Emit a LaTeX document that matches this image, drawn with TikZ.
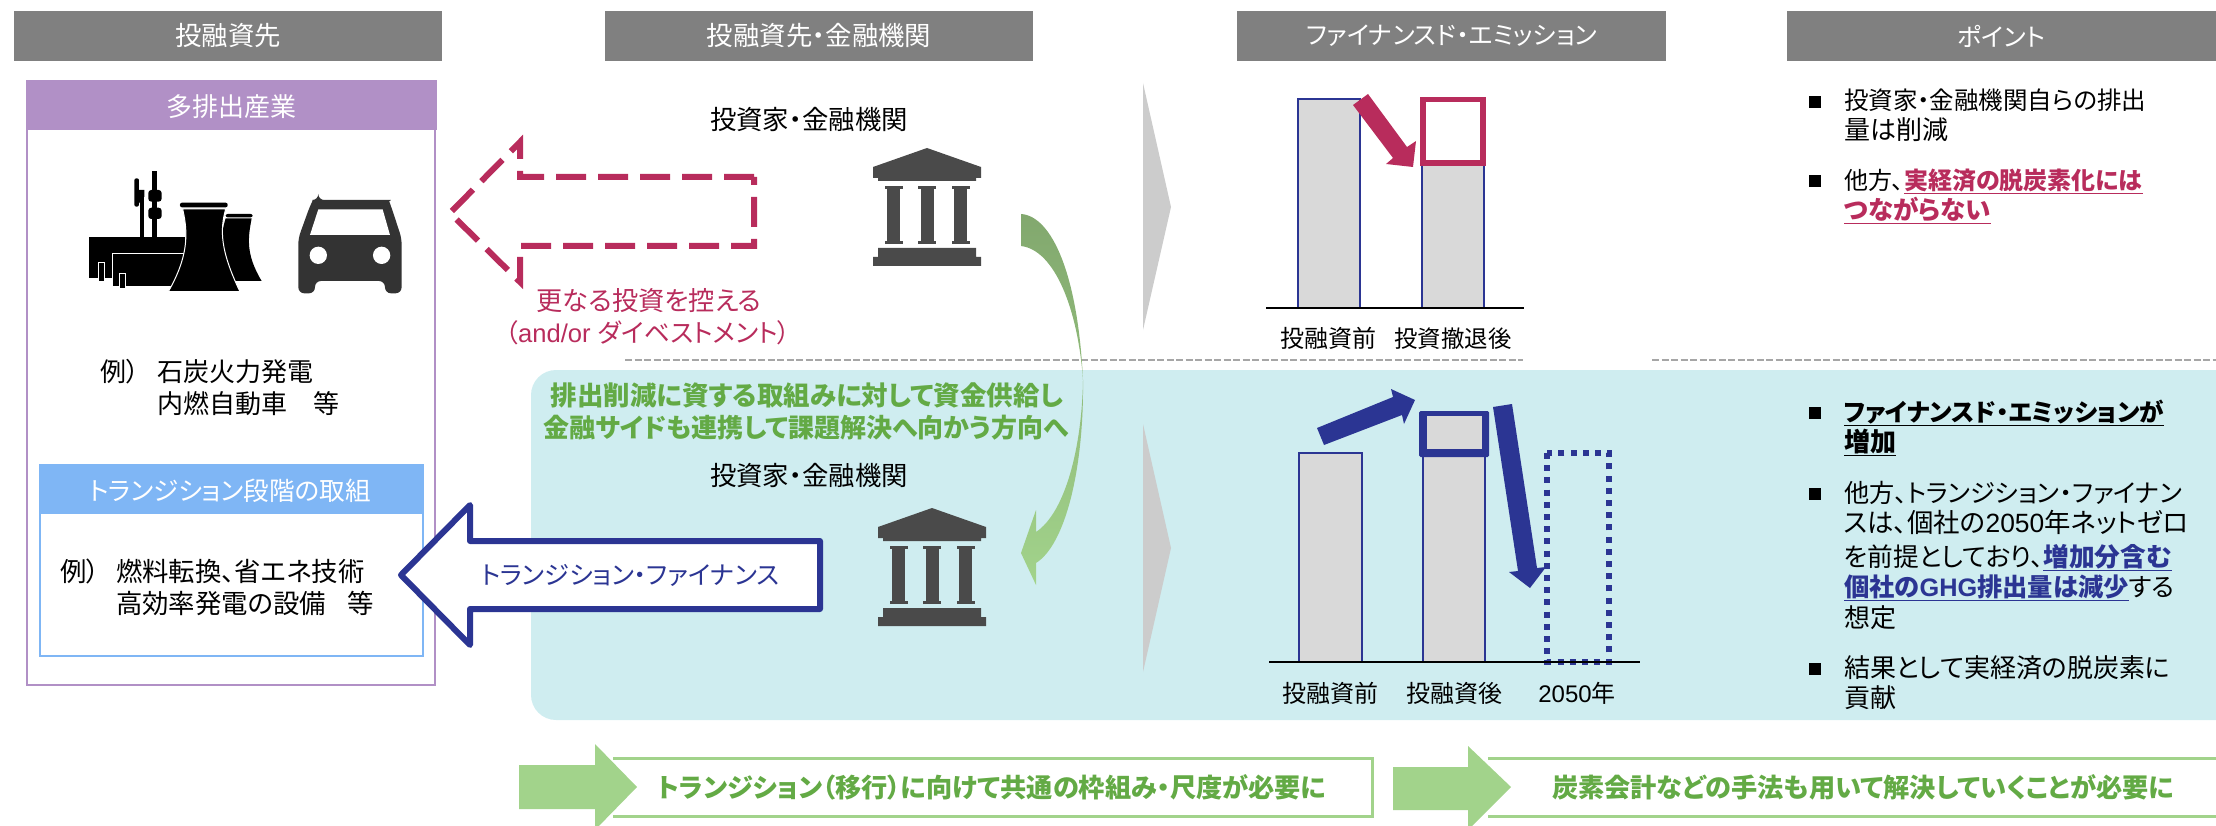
\documentclass[tikz,border=0pt]{standalone}
\usepackage{fontspec}
\setmainfont[RawFeature=+palt]{Noto Sans CJK JP}
\newfontfamily\latf{Liberation Sans}
\usetikzlibrary{calc}
\definecolor{hdgray}{HTML}{808080}
\definecolor{purp}{HTML}{B190C6}
\definecolor{skyb}{HTML}{7FB6F5}
\definecolor{teal}{HTML}{CFEDF0}
\definecolor{rose}{HTML}{B82C5C}
\definecolor{navy}{HTML}{2B3593}
\definecolor{lgreen}{HTML}{A2D38B}
\definecolor{agreen}{HTML}{82A86E}
\definecolor{mgreen}{HTML}{8FB97A}
\definecolor{dgreen}{HTML}{63AA45}
\definecolor{iconc}{HTML}{4A4A4A}
\definecolor{carc}{HTML}{333333}
\definecolor{barg}{HTML}{D9D9D9}
\tikzset{
  every node/.style={inner sep=0pt,outer sep=0pt},
  sz/.style={font=\fontsize{#1}{#1}\selectfont},
  txt/.style={sz=24.5,text height=24.5pt,text depth=6pt},
  lab/.style={txt,sz=24},
  head/.style={fill=hdgray,minimum height=50pt,text=white,sz=25,anchor=north west},
  gbold/.style={txt,text=dgreen,font=\fontsize{#1}{#1}\selectfont\bfseries},
  bul/.style={fill=black,minimum width=12pt,minimum height=12pt},
  bar/.style={fill=barg,draw=navy,line width=2.5pt},
  tri/.style={fill=black!20},
  ax/.style={draw=black,line width=2.5pt},
  sepl/.style={draw=black!35,line width=2pt,dash pattern=on 7pt off 2.5pt},
  bank/.pic={
    \fill[iconc] (0,0)--(54,19)--(54,30)--(49,30)--(49,33)--(-49,33)--(-49,30)--(-54,30)--(-54,19)--cycle;
    \foreach \c in {-33.5,0,33.5}{
      \fill[iconc] (\c-9,38) rectangle (\c+9,41);
      \fill[iconc] (\c-6.5,41) rectangle (\c+6.5,93);
      \fill[iconc] (\c-9,93) rectangle (\c+9,96);
    }
    \fill[iconc] (-49,100)--(49,100)--(49,109)--(54,109)--(54,118)--(-54,118)--(-54,109)--(-49,109)--cycle;
  }
}
\newcommand{\rl}[1]{\textcolor{rose}{\bfseries\underline{#1}}}
\newcommand{\nl}[1]{\textcolor{navy}{\bfseries\underline{#1}}}
\begin{document}
\begin{tikzpicture}[x=1pt,y=-1pt]
\useasboundingbox (0,0) rectangle (2216,826);
% teal panel
\fill[teal] (2216,370) [rounded corners=25pt] -- (531,370) -- (531,720) [sharp corners] -- (2216,720) -- cycle;
% separators
\draw[sepl] (625,360) -- (1523,360);
\draw[sepl] (1652,360) -- (2216,360);
% headers
\node[head,minimum width=428pt,sz=26.4] (h1) at (14,11) {投融資先};
\node[head,minimum width=428pt,sz=26.4] (h2) at (605,11) {投融資先・金融機関};
\node[head,minimum width=429pt] (h3) at (1237,11) {ファイナンスド・エミッション};
\node[head,minimum width=429pt] (h4) at (1787,11) {ポイント};
% purple box
\draw[purp,line width=2.5pt,fill=white] (27,100) rectangle (435,685);
\fill[purp] (26,80) rectangle (437,130);
\node[txt,text=white,sz=26] (p) at (231,107) {多排出産業};
% plant icon
\begin{scope}[shift={(60,150)},x=0.3333pt,y=-0.3333pt]
  \fill[black] (87,260) rectangle (375,383);
  \fill[black] (240,120) rectangle (253,260);
  \fill[black,rounded corners=2pt] (223,85) rectangle (237,170);
  \fill[black] (237,120)--(253,120)--(253,140)--(237,160)--cycle;
  \fill[black] (277,62) rectangle (291,260);
  \fill[black,rounded corners=3pt] (265,120) rectangle (305,155);
  \fill[black,rounded corners=3pt] (265,173) rectangle (305,207);
  \draw[white,line width=1pt,fill=black] (115,337) rectangle (135,395);
  \draw[white,line width=1pt,fill=black] (159,312) rectangle (372,410);
  \draw[white,line width=1pt,fill=black] (180,372) rectangle (198,417);
  \fill[black,rounded corners=2pt] (497,192) rectangle (578,202);
  \fill[black] (497,205) -- (575,205) .. controls (565,260) and (555,310) .. (605,393) -- (490,393) .. controls (480,300) and (480,260) .. (497,205) -- cycle;
  \draw[white,line width=1pt,fill=black] (368,177) -- (497,177) .. controls (480,240) and (480,300) .. (540,425) -- (325,425) .. controls (385,320) and (385,250) .. (368,177) -- cycle;
  \fill[black,rounded corners=2pt] (360,158) rectangle (503,172);
\end{scope}
% car icon
\begin{scope}[shift={(60,150)},x=0.3333pt,y=-0.3333pt]
  \fill[carc,rounded corners=6pt]
    (775,150) -- (975,150) .. controls (985,150) and (990,160) .. (993,168) -- (1025,265) -- (1025,430) -- (975,430) -- (975,393) -- (765,393) -- (765,430) -- (715,430) -- (715,265) -- (750,168) .. controls (755,158) and (762,150) .. (775,150) -- cycle;
  \fill[white] (775,178) -- (968,178) -- (990,255) -- (750,255) -- cycle;
  \fill[white] (775,316) circle[radius=26];
  \fill[white] (965,316) circle[radius=26];
\end{scope}
\node[txt,anchor=west,sz=26] (ex1a) at (100,372) {例）};
\node[txt,anchor=west,sz=26] (ex1b) at (157,372) {石炭火力発電};
\node[txt,anchor=west,sz=26] (ex1c) at (157,404) {内燃自動車\hspace{1em}等};
% blue box
\draw[skyb,line width=2.5pt,fill=white] (40,500) rectangle (423,656);
\fill[skyb] (39,464) rectangle (424,514);
\node[txt,text=white,sz=25.6] (b) at (230,491) {トランジション段階の取組};
\node[txt,anchor=west,sz=26.4] (ex2a) at (60,572) {例）};
\node[txt,anchor=west,sz=26.4] (ex2b) at (116,572) {燃料転換、省エネ技術};
\node[txt,anchor=west,sz=26.4] (ex2c) at (116,604) {高効率発電の設備\hspace{0.8em}等};
% dashed arrow
\draw[rose,line width=6pt,dash pattern=on 30pt off 12pt,line join=miter]
  (754,177) -- (520,177) -- (520,142) -- (450,213) -- (520,282) -- (520,246) -- (754,246) -- cycle;
\node[txt,text=rose,sz=26.2] (r1) at (649,301) {更なる投資を控える};
\node[txt,text=rose,sz=25.6] (r2) at (648,333) {（\latf and/or \rmfamily ダイベストメント）};
\node[txt,sz=26.4] (inv1) at (809,120) {投資家・金融機関};
\pic at (927,148) {bank};
% bottom-panel texts
\node[gbold=26.5] (g1) at (807,396) {排出削減に資する取組みに対して資金供給し};
\node[gbold=26] (g2) at (806,428) {金融サイドも連携して課題解決へ向かう方向へ};
\node[txt,sz=26.4] (inv2) at (809,476) {投資家・金融機関};
\pic at (932,508) {bank};
% green curved arrow
\shade[top color=agreen,middle color=mgreen,bottom color=lgreen]
  (1021,214) .. controls (1052,216) and (1078,275) .. (1083,380)
  .. controls (1084,470) and (1065,545) .. (1036,563)
  -- (1036,585) -- (1021,553) -- (1036,510) -- (1036,532)
  .. controls (1066,512) and (1082,445) .. (1083,380)
  .. controls (1078,310) and (1055,250) .. (1021,246) -- cycle;
% navy block arrow
\draw[navy,line width=6pt,fill=white,line join=round] (820,541) -- (470,541) -- (470,505) -- (401,575) -- (470,645) -- (470,609) -- (820,609) -- cycle;
\node[txt,text=navy,sz=25.3] (tf) at (630,575) {トランジション・ファイナンス};
% gray triangles
\fill[tri] (1143,83) -- (1171,207) -- (1143,330) -- cycle;
\fill[tri] (1143,424) -- (1171,548) -- (1143,672) -- cycle;
% upper chart
\draw[bar] (1298,99) rectangle (1360,308);
\draw[bar] (1422,165) rectangle (1484,308);
\draw[rose,line width=5.5pt,fill=white] (1423,99.5) rectangle (1483,163);
\draw[ax] (1266,308) -- (1524,308);
\fill[rose] (1368,94) -- (1407,147) -- (1416,141) -- (1413,167) -- (1386,164) -- (1393,158) -- (1353,105) -- cycle;
\node[lab] (l1) at (1328,338) {投融資前};
\node[lab,sz=23.4] (l2) at (1453,338) {投資撤退後};
% lower chart
\draw[bar] (1299,453) rectangle (1362,662);
\draw[bar] (1423,455) rectangle (1485,662);
\fill[navy,rounded corners=1.5pt] (1419,411) rectangle (1489,457);
\fill[barg] (1427,415.5) rectangle (1482,449);
\draw[navy,line width=6pt,dash pattern=on 6pt off 6.2pt] (1547,453) rectangle (1609,662);
\draw[ax] (1269,662) -- (1640,662);
\fill[navy] (1317,428) -- (1393,397) -- (1391,389) -- (1415,400) -- (1404,424) -- (1402,415) -- (1324,445) -- cycle;
\fill[navy] (1493,407) -- (1512,404) -- (1537,568) -- (1546,567) -- (1530,588) -- (1509,572) -- (1518,571) -- cycle;
\node[lab] (l3) at (1330,693) {投融資前};
\node[lab] (l4) at (1454,693) {投融資後};
\node[lab] (l5) at (1577,693) {\latf 2050\rmfamily 年};
% points upper
\node[bul] (b1) at (1815,102) {};
\node[txt,anchor=west] (t1) at (1844,100) {投資家・金融機関自らの排出};
\node[txt,anchor=west,sz=26] (t2) at (1844,130) {量は削減};
\node[bul] (b2) at (1815,181) {};
\node[txt,anchor=west,sz=24] (t3) at (1844,180) {他方、\rl{実経済の脱炭素化には}};
\node[txt,anchor=west,sz=25.5] (t4) at (1844,210) {\rl{つながらない}};
% points lower
\node[bul] (b3) at (1815,413) {};
\node[txt,anchor=west] (t5) at (1844,412) {\bfseries\underline{ファイナンスド・エミッションが}};
\node[txt,anchor=west,sz=26] (t6) at (1844,442) {\bfseries\underline{増加}};
\node[bul] (b4) at (1815,494) {};
\node[txt,anchor=west,sz=25.2] (t7) at (1844,493) {他方、トランジション・ファイナン};
\node[txt,anchor=west,sz=26.4] (t8) at (1844,523) {スは、個社の\latf 2050\rmfamily 年ネットゼロ};
\node[txt,anchor=west,sz=25.7] (t9) at (1844,557) {を前提としており、\nl{増加分含む}};
\node[txt,anchor=west,sz=25.3] (t10) at (1844,587) {\nl{個社の\latf GHG\rmfamily 排出量は減少}する};
\node[txt,anchor=west,sz=26] (t11) at (1844,618) {想定};
\node[bul] (b5) at (1815,669) {};
\node[txt,anchor=west,sz=26] (t12) at (1844,668) {結果として実経済の脱炭素に};
\node[txt,anchor=west,sz=26] (t13) at (1844,698) {貢献};
% bottom frames and arrows
\draw[lgreen,line width=3pt] (613,758) -- (1372,758) -- (1372,816) -- (613,816);
\draw[lgreen,line width=3pt] (1488,758) -- (2216,758);
\draw[lgreen,line width=3pt] (1488,816) -- (2216,816);
\fill[lgreen] (519,765) -- (595,765) -- (595,744) -- (637,787) -- (595,830) -- (595,809) -- (519,809) -- cycle;
\fill[lgreen] (1393,767) -- (1468,767) -- (1468,746) -- (1511,787) -- (1468,830) -- (1468,810) -- (1393,810) -- cycle;
\node[gbold=26.2] (f1) at (992,788) {トランジション（移行）に向けて共通の枠組み・尺度が必要に};
\node[gbold=26.2] (f2) at (1863,788) {炭素会計などの手法も用いて解決していくことが必要に};
\end{tikzpicture}
\end{document}
